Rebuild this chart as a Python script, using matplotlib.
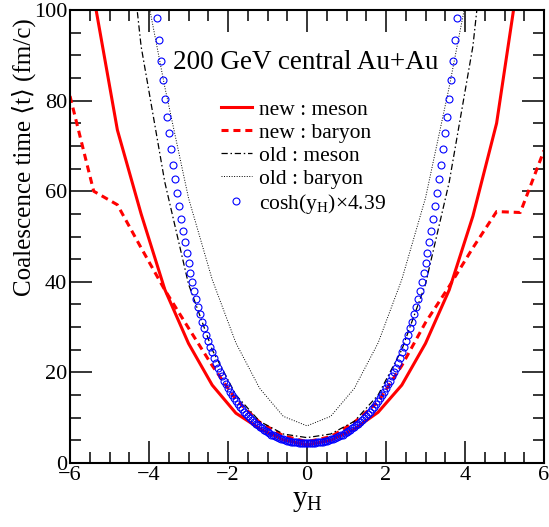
import numpy as np
import matplotlib
matplotlib.use("Agg")
import matplotlib.pyplot as plt
from matplotlib.ticker import MultipleLocator

plt.rcParams['font.family'] = ['Liberation Serif', 'DejaVu Serif', 'DejaVu Sans']
plt.rcParams['mathtext.fontset'] = 'custom'
plt.rcParams['mathtext.rm'] = 'Liberation Serif'
plt.rcParams['mathtext.it'] = 'Liberation Serif:italic'

# ---- data ----
rapidity = [-6.0, -5.4, -4.8, -4.2, -3.6, -3.0, -2.4, -1.8, -1.2, -0.6, 0.0,
            0.6, 1.2, 1.8, 2.4, 3.0, 3.6, 4.2, 4.8, 5.4, 6.0]
new_meson = [150, 103, 73.5, 55, 38.3, 26.4, 17.2, 11.0, 7.6, 5.1, 4.0,
             5.0, 7.5, 11.2, 17.2, 26.4, 38.2, 54.5, 75, 110, 160]
new_baryon = [81, 60, 57, 47.5, 38.2, 29.8, 21.5, 14.0, 9.0, 6.0, 4.7,
              5.8, 9.0, 13.5, 21.5, 31, 39, 47.5, 55.5, 55.3, 69]
old_meson_y = [-5.4, -4.8, -4.2, -3.6, -3.0, -2.4, -1.8, -1.2, -0.6, 0.0,
               0.6, 1.2, 1.8, 2.4, 3.0, 3.6, 4.2, 4.8, 5.4]
old_meson = [210, 140, 92, 62, 39.5, 25, 15, 9.2, 6.4, 5.6,
             6.4, 9.2, 15, 25, 39.5, 62, 92, 140, 210]
old_baryon_y = [-4.8, -4.2, -3.6, -3.0, -2.4, -1.8, -1.2, -0.6, 0.0,
                0.6, 1.2, 1.8, 2.4, 3.0, 3.6, 4.2, 4.8]
old_baryon = [150, 110, 83, 58.5, 40.5, 26.5, 16.5, 10.3, 8.2,
              10.3, 16.5, 26.5, 40.5, 58.5, 83, 110, 150]
cosh_scale = 4.39
cosh_y = np.round(np.arange(-3.8, 3.8001, 0.05), 2)
cosh_t = np.cosh(cosh_y) * cosh_scale

labels = ['new : meson', 'new : baryon', 'old : meson', 'old : baryon',
          r'cosh(y$_\mathrm{H}$)×4.39']

# ---- figure ----
fig = plt.figure(figsize=(5.49, 5.27), dpi=100)
ax = fig.add_axes([70/549, 1-463/527, 474/549, 453/527])

ax.plot(rapidity, new_meson, color='#ff0000', lw=2.2, label=labels[0])
ax.plot(rapidity, new_baryon, color='#ff0000', lw=2.2, dashes=(2.3, 1.6),
        label=labels[1])
ax.plot(old_meson_y, old_meson, color='black', lw=0.9,
        dashes=(5, 2.2, 1.2, 2.2), label=labels[2])
ax.plot(old_baryon_y, old_baryon, color='black', lw=0.7,
        dashes=(1, 1.6), label=labels[3])
ax.plot(cosh_y, cosh_t, ls='none', marker='o', ms=5, mfc='none',
        mec='#0000ff', mew=0.8, label=labels[4])

ax.set_xlim(-6, 6)
ax.set_ylim(0, 100)
ax.xaxis.set_major_locator(MultipleLocator(2))
ax.xaxis.set_minor_locator(MultipleLocator(0.5))
ax.yaxis.set_major_locator(MultipleLocator(20))
ax.yaxis.set_minor_locator(MultipleLocator(5))
ax.tick_params(which='both', direction='in', top=True, right=True,
               labelsize=16, pad=2, width=1.1)
ax.tick_params(which='major', length=16)
ax.tick_params(which='minor', length=8)
ax.set_xticks([-6, -4, -2, 0, 2, 4, 6])
ax.set_xticklabels(['\u22126', '\u22124', '\u22122', '0', '2', '4', '6'])
for s in ax.spines.values():
    s.set_linewidth(1.5)

ax.set_xlabel(r'$\mathrm{y_H}$', fontsize=21, labelpad=2)
ax.set_ylabel('Coalescence time \u27e8t\u27e9 (fm/c)', fontsize=18)
ax.yaxis.set_label_coords(-0.072, 0.675)

ax.text(-3.39, 86.9, '200 GeV central Au+Au', fontsize=19.5, va='baseline',
        ha='left')

leg = ax.legend(loc='upper left', bbox_to_anchor=(0.318, 0.802),
                frameon=False, fontsize=15.5, handlelength=1.45,
                handletextpad=0.33, labelspacing=0.14, borderpad=0,
                borderaxespad=0, numpoints=1)

fig.savefig('out.png', dpi=100)
